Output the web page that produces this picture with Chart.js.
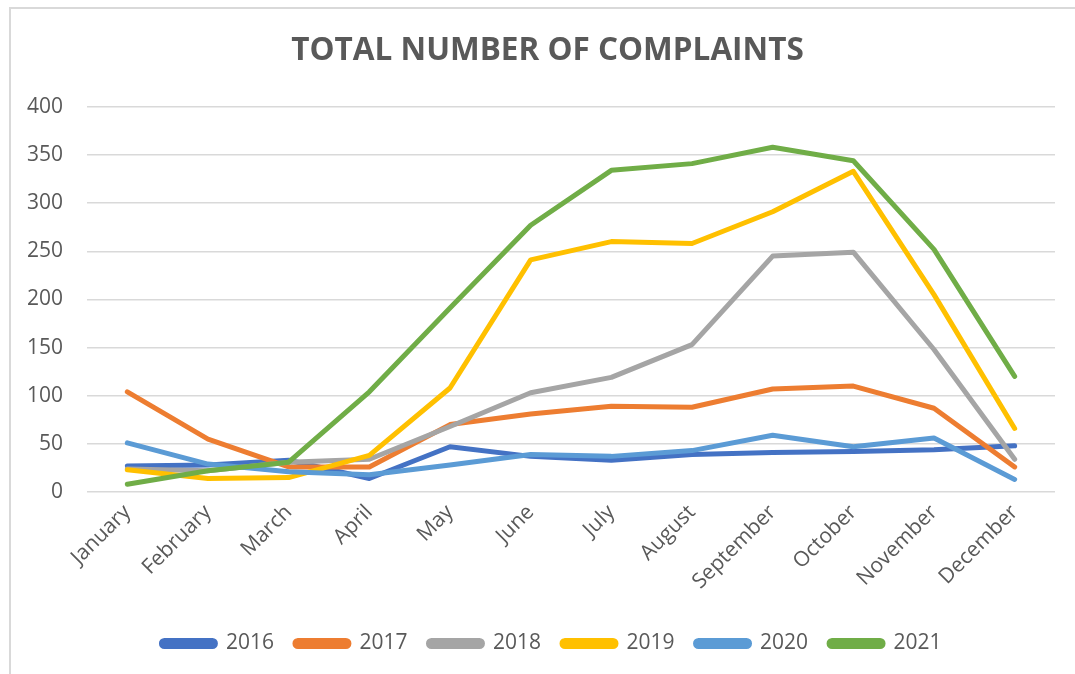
<!DOCTYPE html>
<html>
<head>
<meta charset="utf-8">
<script src="https://cdn.jsdelivr.net/npm/chart.js@4.4.0/dist/chart.umd.min.js"></script>
<style>
  html, body { margin: 0; padding: 0; background: #fff; overflow: hidden; }
  #frame { position: absolute; left: 9px; top: 7px; width: 1100px; height: 700px; border: 2px solid #d9d9d9; box-sizing: border-box; }
  #wrap { position: absolute; left: 0; top: 0; width: 1075px; height: 674px; }
</style>
</head>
<body>
<div id="frame"></div>
<div id="wrap"><canvas id="complaintsChart" width="1075" height="674"></canvas></div>
<script>
var months = ['January', 'February', 'March', 'April', 'May', 'June', 'July', 'August', 'September', 'October', 'November', 'December'];

var y2016 = [27, 28, 33, 14, 47, 37, 33, 39, 41, 42, 44, 48];
var y2017 = [104, 55, 26, 26, 70, 81, 89, 88, 107, 110, 87, 26];
var y2018 = [24, 22, 31, 34, 68, 103, 119, 153, 245, 249, 148, 34];
var y2019 = [23, 14, 15, 38, 108, 241, 260, 258, 291, 333, 205, 66];
var y2020 = [51, 29, 21, 18, 28, 39, 37, 43, 59, 47, 56, 13];
var y2021 = [8, 22, 31, 104, 191, 277, 334, 341, 358, 344, 252, 120];

var seriesNames = ['2016', '2017', '2018', '2019', '2020', '2021'];
var seriesData = [y2016, y2017, y2018, y2019, y2020, y2021];
var seriesColors = ['#4472C4', '#ED7D31', '#A5A5A5', '#FFC000', '#5B9BD5', '#70AD47'];

var textGray = '#595959';
var gridGray = '#d9d9d9';

var datasets = seriesNames.map(function (name, i) {
  return {
    label: name,
    data: seriesData[i],
    borderColor: seriesColors[i],
    backgroundColor: seriesColors[i],
    borderWidth: 5,
    borderCapStyle: 'round',
    borderJoinStyle: 'round',
    pointRadius: 0,
    tension: 0,
    fill: false,
    order: seriesNames.length - i   // later years drawn on top, like Excel
  };
});

// title and legend in the reference sit centred under the plot, not the canvas
var shiftBlocks = {
  id: 'shiftBlocks',
  afterLayout: function (chart) {
    if (chart.legend) {
      chart.legend.left += 24;
      chart.legend.right += 24;
    }
    if (chart.titleBlock) {
      chart.titleBlock.left += 20;
      chart.titleBlock.right += 20;
    }
  }
};

const ctx = document.getElementById('complaintsChart');

var complaintsChart = new Chart(ctx, {
  type: 'line',
  data: {
    labels: months,
    datasets: datasets
  },
  plugins: [shiftBlocks],
  options: {
    responsive: false,
    animation: false,
    layout: { padding: { left: 0, right: 20, top: 0, bottom: 10 } },
    plugins: {
      title: {
        display: true,
        text: 'TOTAL NUMBER OF COMPLAINTS',
        color: textGray,
        font: { family: 'Open Sans', size: 31.5, weight: 'bold' },
        padding: { top: 32, bottom: 37 }
      },
      legend: {
        position: 'bottom',
        labels: {
          color: textGray,
          font: { family: 'Open Sans', size: 21 },
          boxWidth: 54,
          boxHeight: 6,
          useBorderRadius: true,
          borderRadius: 3,
          padding: 21,
          sort: function (a, b) { return a.datasetIndex - b.datasetIndex; }
        }
      },
      tooltip: { enabled: false }
    },
    scales: {
      x: {
        offset: true,
        grid: { display: false, drawTicks: false },
        border: { display: false },
        ticks: {
          color: textGray,
          font: { family: 'Open Sans', size: 21 },
          minRotation: 45,
          maxRotation: 45,
          padding: 8
        },
        afterFit: function (scale) { scale.height = 120; }
      },
      y: {
        min: 0,
        max: 400,
        grid: { color: gridGray, lineWidth: 1.5, drawTicks: false },
        border: { display: false },
        ticks: {
          stepSize: 50,
          color: textGray,
          font: { family: 'Open Sans', size: 21 },
          padding: 24
        },
        afterFit: function (scale) { scale.width = 87; }
      }
    }
  }
});
</script>
</body>
</html>
